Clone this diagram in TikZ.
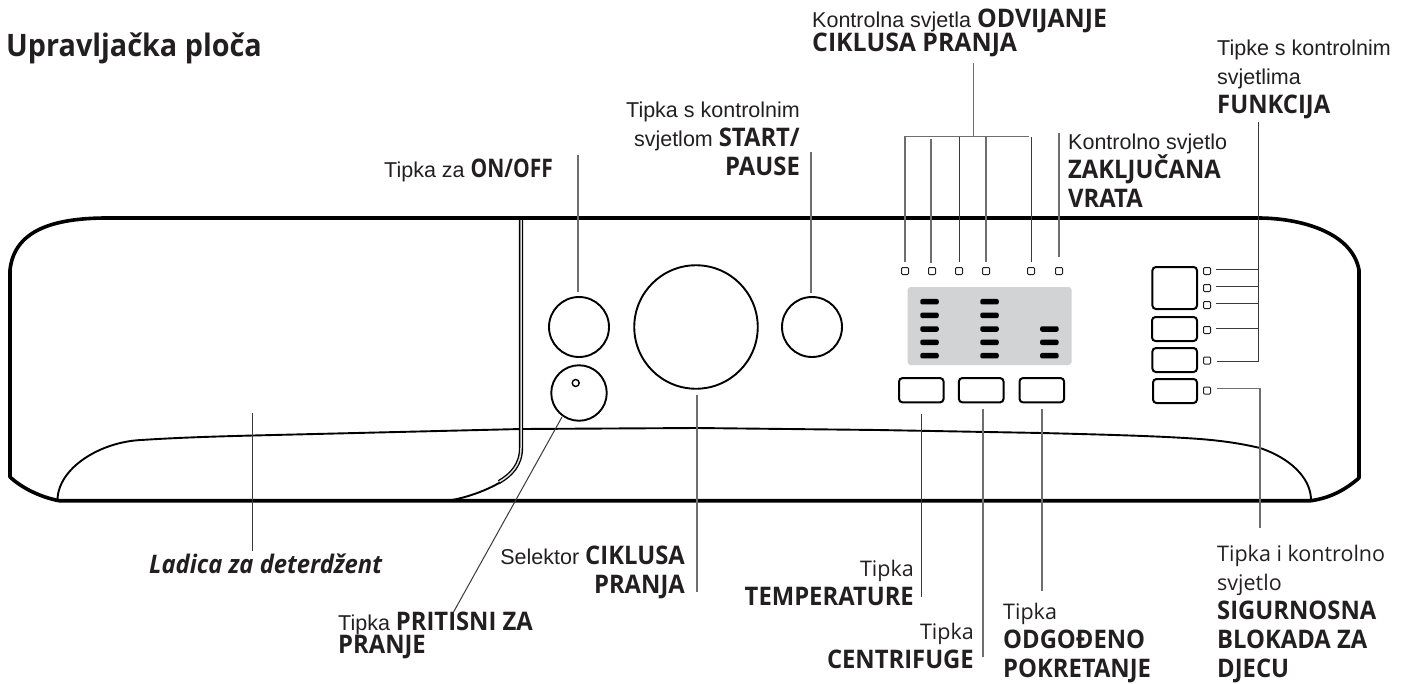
\documentclass[tikz,border=0pt]{standalone}
\usepackage{fontspec}
\setmainfont{Liberation Sans}
\newfontfamily\bld[FakeStretch=0.93,Scale=1.19]{Open Sans}
\newfontfamily\bldn[FakeStretch=0.82,Scale=1.19]{Open Sans}
\newfontfamily\bldw[FakeStretch=0.97,Scale=1.19]{Open Sans}
\newfontfamily\myr{Open Sans}
\newcommand{\bt}[1]{{\bld\bfseries #1}}
\newcommand{\btn}[1]{{\bldn\bfseries #1}}
\newcommand{\btw}[1]{{\bldw\bfseries #1}}
\definecolor{ink}{HTML}{231F20}
\definecolor{lead}{HTML}{6D6E70}
\definecolor{dark}{HTML}{3A3A3C}
\definecolor{panelgrey}{HTML}{D1D3D4}
\tikzset{
  outlinepath/.style={line width=3.6pt,black,line join=round},
  thinpath/.style={line width=1.9pt,black},
  knob/.style={circle,draw=black,line width=1.9pt,inner sep=0pt,fill=white},
  btn/.style={draw=black,line width=2pt,rounded corners=3.5pt,inner sep=0pt},
  led/.style={draw=ink,line width=1pt,rounded corners=1pt,inner sep=0pt,minimum size=7pt},
  bar/.style={fill=black,rounded corners=2pt,inner sep=0pt,minimum width=18.5pt,minimum height=5.5pt},
  leader/.style={line width=1.1pt,lead},
  leaderd/.style={line width=1pt,dark},
  lab/.style={inner sep=0pt,text=ink,font=\fontsize{21.5}{29}\selectfont},
  labl/.style={lab,align=left,anchor=base west},
  labr/.style={lab,align=right,anchor=base east}
}
\begin{document}
\begin{tikzpicture}[x=1pt,y=-1pt]
\useasboundingbox (0,0) rectangle (1413,683);
% panel outline
\draw[outlinepath] (59,500.7) .. controls (40,497) and (22,488) .. (10,477) -- (10,270)
  .. controls (14,233) and (48,218) .. (107,218) -- (1258,218)
  .. controls (1300,218) and (1352,232) .. (1359,270) -- (1359,478)
  .. controls (1345,490) and (1330,498) .. (1311,500.7) -- cycle;
% drawer
\draw[thinpath] (57.5,500) .. controls (58,468) and (100,442) .. (141,440)
  .. controls (180,437.5) and (215,436.5) .. (253,435.5) -- (521,429) -- (697,428) -- (878,430) -- (1042,433)
  .. controls (1100,434.5) and (1160,436) .. (1200,439)
  .. controls (1225,441) and (1243,444) .. (1260,448)
  .. controls (1290,458) and (1311,478) .. (1311,500);
% divider
\draw[line width=4.2pt,black] (521,218) -- (521,448) .. controls (521,465) and (511,475) .. (499,482);
\draw[line width=1.5pt,panelgrey!70] (521,220) -- (521,448) .. controls (521,465) and (511,475) .. (499,482);
\draw[line width=1.9pt,black] (500,482.5) .. controls (485,491) and (468,497) .. (452,500);
% knobs
\node[knob,minimum size=60pt] (onoff) at (579,327) {};
\node[knob,minimum size=55.5pt] (press) at (579,393) {};
\node[knob,minimum size=7pt,line width=1.4pt] (dot) at (575.7,383) {};
\node[knob,minimum size=123.5pt] (selector) at (696,327) {};
\node[knob,minimum size=60pt] (startb) at (812,327) {};
% grey display
\node[fill=panelgrey,rounded corners=3pt,inner sep=0pt,minimum width=164pt,minimum height=78pt] (display) at (989.6,326) {};
\foreach \i/\x/\y in {a1/929.5/301.7,a2/929.5/315.3,a3/929.5/329,a4/929.5/342.3,a5/929.5/355.7,
  b1/989.5/301.7,b2/989.5/315.3,b3/989.5/329,b4/989.5/342.3,b5/989.5/355.7,
  c3/1049.4/329,c4/1049.4/342.3,c5/1049.4/355.7}
  \node[bar] (bar\i) at (\x,\y) {};
% buttons
\node[btn,minimum width=44.6pt,minimum height=24.3pt] (btemp) at (921.3,390.2) {};
\node[btn,minimum width=44.7pt,minimum height=24.3pt] (bcent) at (981.2,390.2) {};
\node[btn,minimum width=44.6pt,minimum height=24.3pt] (bdelay) at (1041.8,390.2) {};
\node[btn,minimum width=44.6pt,minimum height=42pt] (f1) at (1174.7,288) {};
\node[btn,minimum width=45pt,minimum height=24pt] (f2) at (1174.5,329) {};
\node[btn,minimum width=44.6pt,minimum height=24pt] (f3) at (1174.7,360) {};
\node[btn,minimum width=44pt,minimum height=24pt] (f4) at (1175,391) {};
% LEDs
\foreach \n/\x in {1/905,2/932,3/959,4/986,5/1031,6/1059}
  \node[led] (top\n) at (\x,271) {};
\foreach \n/\y in {1/271,2/288,3/305,4/330,5/360.5,6/390.5}
  \node[led] (side\n) at (1207,\y) {};
% labels (anchor = baseline of the last line)
\node[lab,anchor=base west,font=\fontsize{26}{30}\selectfont] (title) at (6,56) {\bt{Upravljačka ploča}};
\node[labl] (lcycle) at (812,51) {Kontrolna svjetla \btw{ODVIJANJE}\\[-5pt]\btw{CIKLUSA PRANJA}};
\node[labl] (lfunc) at (1217,113) {Tipke s kontrolnim\\svjetlima\\\bt{FUNKCIJA}};
\node[labr] (lstart) at (800,175) {Tipka s kontrolnim\\svjetlom \bt{START/}\\\bt{PAUSE}};
\node[labl] (llock) at (1068,207) {Kontrolno svjetlo\\\bt{ZAKLJUČANA}\\\bt{VRATA}};
\node[labr] (lonoff) at (553,177.5) {Tipka za \btn{ON/OFF}};
\node[lab,anchor=base west] (ldrawer) at (149,573) {\bt{\itshape Ladica za deterdžent}};
\node[labr] (lsel) at (685,593) {Selektor \bt{CIKLUSA}\\\bt{PRANJA}};
\node[labl] (lpress) at (338,653) {Tipka \bt{PRITISNI ZA}\\[-6pt]\bt{PRANJE}};
\node[labr] (ltemp) at (914,605) {{\myr Tipka}\\\bt{TEMPERATURE}};
\node[labr] (lcent) at (974,668) {{\myr Tipka}\\\bt{CENTRIFUGE}};
\node[labl] (ldelay) at (1003,677) {{\myr Tipka}\\\bt{ODGOĐENO}\\\bt{POKRETANJE}};
\node[labl] (lchild) at (1217,677) {{\myr Tipka i kontrolno}\\{\myr svjetlo}\\\bt{SIGURNOSNA}\\\bt{BLOKADA ZA}\\\bt{DJECU}};
% leader free ends
\coordinate (e1) at (578,155); \coordinate (e1b) at (578,292);
\coordinate (e2) at (811,152); \coordinate (e2b) at (811,293);
\coordinate (e3) at (697,395); \coordinate (e3b) at (697,592);
\coordinate (e4) at (562,417); \coordinate (e4b) at (453,613);
\coordinate (e5) at (252.6,413); \coordinate (e5b) at (252.6,551);
\coordinate (e6) at (921.7,414); \coordinate (e6b) at (921.7,597);
\coordinate (e7) at (983,409); \coordinate (e7b) at (983,657);
\coordinate (e8) at (1042,409); \coordinate (e8b) at (1042,591);
\draw[leader] (e1) -- (e1b);
\draw[leader] (e2) -- (e2b);
\draw[leader] (e3) -- (e3b);
\draw[leaderd] (e4) -- (e4b);
\draw[leaderd] (e5) -- (e5b);
\draw[leaderd] (e6) -- (e6b);
\draw[leader] (e7) -- (e7b);
\draw[leader] (e8) -- (e8b);
% cycle bracket
\coordinate (tr) at (973.6,63); \coordinate (tr2) at (973.6,136.5);
\coordinate (h1) at (905,136.5); \coordinate (h2) at (1029,136.5);
\draw[leader] (tr) -- (tr2);
\draw[leader] (h2) -- (h1) -- (905,262);
\draw[leader] (931,139) -- (931,263);
\draw[leaderd] (959.5,137) -- (959.5,262);
\draw[leader] (986,137) -- (986,262);
\draw[leaderd] (1031.5,137) -- (1031.5,262);
\draw[leader] (1059,133) -- (1059,257);
% function bracket
\draw[leaderd] (1258.6,122) -- (1258.6,361.5) -- (1217,361.5);
\foreach \y in {269.7,286,303,328.5} \draw[leaderd] (1216,\y) -- (1258.6,\y);
% child lock
\draw[leader] (1217,388.7) -- (1260,388.7) -- (1260,528);
\end{tikzpicture}
\end{document}
